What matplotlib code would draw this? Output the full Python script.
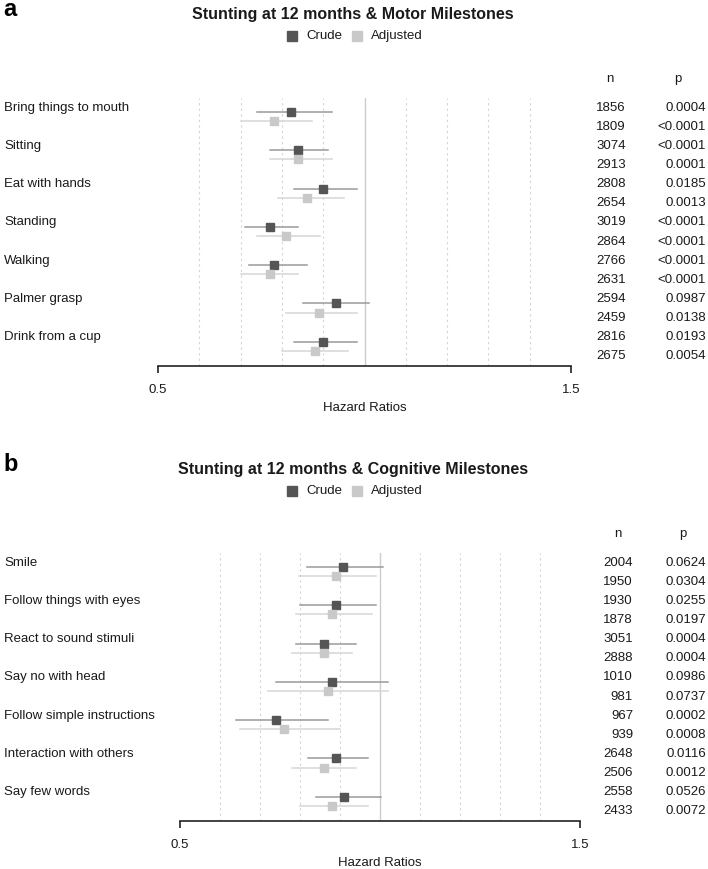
import matplotlib
matplotlib.use("Agg")
import matplotlib.pyplot as plt
from matplotlib.patches import Rectangle
from matplotlib.transforms import blended_transform_factory

plt.rcParams['font.family'] = ['Liberation Sans', 'DejaVu Sans']

W, H = 708, 869

# panel a - motor milestones
motor_labels = ["Bring things to mouth", "Sitting", "Eat with hands", "Standing",
                "Walking", "Palmer grasp", "Drink from a cup"]
motor_n = ["1856", "1809", "3074", "2913", "2808", "2654", "3019", "2864",
           "2766", "2631", "2594", "2459", "2816", "2675"]
motor_p = ["0.0004", "<0.0001", "<0.0001", "0.0001", "0.0185", "0.0013", "<0.0001",
           "<0.0001", "<0.0001", "<0.0001", "0.0987", "0.0138", "0.0193", "0.0054"]
motor_crude = [0.821, 0.840, 0.900, 0.770, 0.780, 0.930, 0.900]
motor_crude_lo = [0.740, 0.770, 0.830, 0.710, 0.720, 0.850, 0.830]
motor_crude_hi = [0.922, 0.911, 0.981, 0.840, 0.861, 1.011, 0.981]
motor_adj = [0.780, 0.840, 0.861, 0.811, 0.770, 0.890, 0.881]
motor_adj_lo = [0.702, 0.770, 0.790, 0.740, 0.702, 0.810, 0.801]
motor_adj_hi = [0.872, 0.922, 0.951, 0.892, 0.840, 0.981, 0.961]

# panel b - cognitive milestones
cog_labels = ["Smile", "Follow things with eyes", "React to sound stimuli",
              "Say no with head", "Follow simple instructions",
              "Interaction with others", "Say few words"]
cog_n = ["2004", "1950", "1930", "1878", "3051", "2888", "1010", "981",
         "967", "939", "2648", "2506", "2558", "2433"]
cog_p = ["0.0624", "0.0304", "0.0255", "0.0197", "0.0004", "0.0004", "0.0986",
         "0.0737", "0.0002", "0.0008", "0.0116", "0.0012", "0.0526", "0.0072"]
cog_crude = [0.908, 0.890, 0.860, 0.880, 0.740, 0.890, 0.910]
cog_crude_lo = [0.818, 0.800, 0.790, 0.740, 0.640, 0.820, 0.840]
cog_crude_hi = [1.008, 0.991, 0.940, 1.020, 0.870, 0.971, 1.002]
cog_adj = [0.889, 0.880, 0.860, 0.870, 0.760, 0.860, 0.880]
cog_adj_lo = [0.798, 0.790, 0.780, 0.720, 0.650, 0.780, 0.800]
cog_adj_hi = [0.990, 0.981, 0.931, 1.020, 0.899, 0.940, 0.971]

DARK = "#555555"
LIGHT = "#c9c9c9"
TXT = "#1a1a1a"

fig = plt.figure(figsize=(W / 100, H / 100), dpi=100)


def fx(x):
    return x / W


def fy(y):
    return 1 - y / H


def panel(letter, title, labels, ns, ps, crude, clo, chi, adj, alo, ahi,
          x0, x1, dy, n_hdr_x, n_right, p_hdr_x):
    top, bot = 98 + dy, 366 + dy
    ax = fig.add_axes([fx(x0), fy(bot), (x1 - x0) / W, (bot - top) / H])
    ax.set_xlim(0.5, 1.5)
    ax.set_ylim(13.5, -0.5)
    for s in ["top", "left", "right"]:
        ax.spines[s].set_visible(False)
    ax.spines["bottom"].set_color("#222222")
    ax.spines["bottom"].set_linewidth(1.2)
    ax.set_yticks([])
    ax.set_xticks([0.5, 1.5])
    ax.set_xticklabels(["0.5", "1.5"])
    ax.tick_params(axis="x", direction="out", length=5, width=1.2, color="#222222",
                   pad=8, labelsize=9.5, labelcolor=TXT)

    for g in [0.6, 0.7, 0.8, 0.9, 1.1, 1.2, 1.3, 1.4]:
        ax.axvline(g, color="#d4d4d4", lw=0.8, ls=(0, (2, 3)), zorder=0)
    ax.axvline(1.0, color="#cccccc", lw=1.0, zorder=0)

    for i in range(len(labels)):
        yc = 2 * i + 0.23
        ya = 2 * i + 0.71
        ax.plot([clo[i], chi[i]], [yc, yc], color="#9a9a9a", lw=1.1, zorder=2)
        ax.plot(crude[i], yc, marker="s", ms=5.2, color=DARK, zorder=3)
        ax.plot([alo[i], ahi[i]], [ya, ya], color="#d6d6d6", lw=1.1, zorder=2)
        ax.plot(adj[i], ya, marker="s", ms=5.2, color=LIGHT, zorder=3)

    tr = blended_transform_factory(fig.transFigure, ax.transData)
    for i, lab in enumerate(labels):
        ax.text(fx(4), 2 * i, lab, transform=tr, ha="left", va="center",
                fontsize=9.5, color=TXT)
    for j in range(len(ns)):
        ax.text(fx(n_right), j, ns[j], transform=tr, ha="right", va="center",
                fontsize=9.5, color=TXT)
        ax.text(fx(706), j, ps[j], transform=tr, ha="right", va="center",
                fontsize=9.5, color=TXT)

    fig.text(fx(n_hdr_x), fy(79 + dy), "n", ha="center", va="center", fontsize=9.5, color=TXT)
    fig.text(fx(p_hdr_x), fy(79 + dy), "p", ha="center", va="center", fontsize=9.5, color=TXT)

    fig.text(fx(x0 + (x1 - x0) / 2), fy(408 + dy), "Hazard Ratios", ha="center",
             va="center", fontsize=9.5, color=TXT)

    fig.text(fx(3.5), fy(16.3 + dy), letter, ha="left", va="baseline", fontsize=17,
             fontweight="bold", color="black")
    fig.text(fx(353), fy(15 + dy), title, ha="center", va="center", fontsize=11.5,
             fontweight="bold", color=TXT)

    # legend
    sq = 10.6
    fig.patches.append(Rectangle((fx(286.7), fy(41.3 + dy)), sq / W, sq / H,
                                 transform=fig.transFigure, color=DARK))
    fig.text(fx(306), fy(36 + dy), "Crude", ha="left", va="center", fontsize=9.5, color=TXT)
    fig.patches.append(Rectangle((fx(351.7), fy(41.3 + dy)), sq / W, sq / H,
                                 transform=fig.transFigure, color=LIGHT))
    fig.text(fx(371), fy(36 + dy), "Adjusted", ha="left", va="center", fontsize=9.5, color=TXT)
    return ax


panel("a", "Stunting at 12 months & Motor Milestones", motor_labels, motor_n, motor_p,
      motor_crude, motor_crude_lo, motor_crude_hi, motor_adj, motor_adj_lo, motor_adj_hi,
      158, 571, 0, 610, 626, 678)
panel("b", "Stunting at 12 months & Cognitive Milestones", cog_labels, cog_n, cog_p,
      cog_crude, cog_crude_lo, cog_crude_hi, cog_adj, cog_adj_lo, cog_adj_hi,
      180, 580, 455, 618, 633, 683)

fig.savefig("out.png", dpi=100)
